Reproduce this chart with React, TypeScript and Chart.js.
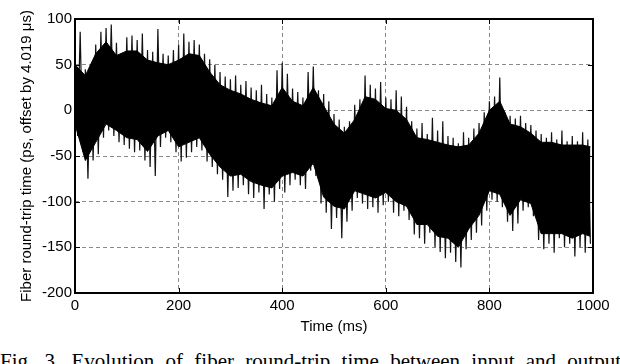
import React, { useEffect, useRef } from 'react';
import { Chart, registerables } from 'chart.js';

Chart.register(...registerables);

// Sample times (ms) of the high-side readings; low-side readings sit half a bin later.
const TIME_MS: number[] = Array.from({ length: 100 }, (_, i) => i * 10);
const LOW_SAMPLE_DELAY_MS = 5;

// Upper extremes of the noisy trace (ps), one per 10 ms bin
const PEAK_HIGH: number[] = [
  66, 86, 45, 50, 72, 86, 90, 94, 74, 60,
  80, 82, 77, 84, 66, 64, 89, 62, 60, 66,
  72, 84, 75, 77, 72, 62, 56, 50, 42, 37,
  34, 38, 28, 32, 25, 22, 28, 18, 14, 44,
  52, 40, 24, 20, 14, 42, 48, 22, 18, 10,
  -4, -10, -18, -12, 6, 12, 38, 28, 24, 31,
  14, 12, 22, 15, 4, -12, -20, -14, -26, -8,
  -22, -12, -28, -30, -36, -24, -30, -20, -14, -2,
  10, 15, 36, -2, -6, -9, -6, -14, -16, -22,
  -26, -30, -24, -32, -22, -34, -28, -34, -24, -32,
];

// Lower extremes of the noisy trace (ps)
const PEAK_LOW: number[] = [
  -28, -45, -75, -55, -48, -30, -22, -28, -35, -38,
  -42, -46, -44, -55, -62, -72, -40, -30, -35, -46,
  -56, -52, -46, -40, -44, -56, -62, -70, -76, -95,
  -88, -85, -82, -92, -96, -90, -108, -92, -100, -86,
  -90, -82, -76, -82, -86, -66, -72, -102, -112, -130,
  -118, -140, -122, -110, -96, -102, -108, -106, -112, -104,
  -100, -112, -116, -110, -120, -136, -140, -146, -134, -150,
  -155, -162, -156, -166, -172, -152, -142, -134, -126, -110,
  -98, -100, -106, -122, -132, -124, -110, -106, -116, -142,
  -152, -146, -156, -140, -150, -146, -160, -150, -156, -146,
];

// Dense (solid black) part of the trace, read every 20 ms
const CORE_TIME_MS: number[] = [
  0, 20, 40, 60, 80, 100, 120, 140, 160, 180,
  200, 220, 240, 260, 280, 300, 320, 340, 360, 380,
  400, 420, 440, 460, 480, 500, 520, 540, 560, 580,
  600, 620, 640, 660, 680, 700, 720, 740, 760, 780,
  800, 820, 840, 860, 880, 900, 920, 940, 960, 980, 995,
];
const CORE_HIGH: number[] = [
  50, 38, 62, 75, 60, 65, 65, 55, 52, 50,
  55, 62, 60, 42, 28, 22, 18, 12, 8, 5,
  25, 10, 5, 25, 5, -15, -25, -10, 15, 12,
  2, 0, -10, -30, -32, -35, -38, -40, -38, -25,
  0, 10, -15, -18, -25, -35, -35, -38, -38, -38, -40,
];
const CORE_LOW: number[] = [
  -15, -55, -35, -15, -22, -30, -32, -45, -28, -22,
  -40, -35, -30, -48, -62, -72, -70, -78, -82, -85,
  -72, -68, -72, -58, -95, -105, -108, -88, -92, -96,
  -90, -100, -105, -125, -125, -138, -140, -150, -130, -115,
  -88, -92, -115, -98, -102, -135, -135, -135, -140, -135, -138,
];

const X_TICKS: number[] = [0, 200, 400, 600, 800, 1000];
const Y_TICKS: number[] = [-200, -150, -100, -50, 0, 50, 100];

const X_TITLE = 'Time (ms)';
const Y_TITLE = 'Fiber round-trip time (ps, offset by 4.019 μs)';
const CAPTION = 'Fig. 3.  Evolution of fiber round-trip time between input and output';

const FONT = '"Liberation Sans", Arial, sans-serif';

const framePlugin = {
  id: 'frame',
  afterDraw(chart: any) {
    const { ctx, chartArea } = chart;
    const { left, right, top, bottom } = chartArea;
    const xs = chart.scales.x;
    const ys = chart.scales.y;
    ctx.save();
    ctx.strokeStyle = '#000';
    ctx.lineWidth = 1;
    const tl = 5;
    ctx.beginPath();
    X_TICKS.forEach((v) => {
      const px = Math.round(xs.getPixelForValue(v)) + 0.5;
      ctx.moveTo(px, bottom);
      ctx.lineTo(px, bottom - tl);
      ctx.moveTo(px, top);
      ctx.lineTo(px, top + tl);
    });
    Y_TICKS.forEach((v) => {
      const py = Math.round(ys.getPixelForValue(v)) + 0.5;
      ctx.moveTo(left, py);
      ctx.lineTo(left + tl, py);
      ctx.moveTo(right, py);
      ctx.lineTo(right - tl, py);
    });
    ctx.stroke();
    ctx.lineWidth = 2;
    ctx.strokeRect(left, top, right - left, bottom - top);
    ctx.restore();
  },
};

export default function App() {
  const canvasRef = useRef<HTMLCanvasElement | null>(null);

  useEffect(() => {
    if (!canvasRef.current) return;
    const points: { x: number; y: number }[] = [];
    TIME_MS.forEach((t, i) => {
      points.push({ x: t, y: PEAK_HIGH[i] });
      points.push({ x: t + LOW_SAMPLE_DELAY_MS, y: PEAK_LOW[i] });
    });
    const coreHigh = CORE_TIME_MS.map((t, i) => ({ x: t, y: CORE_HIGH[i] }));
    const coreLow = CORE_TIME_MS.map((t, i) => ({ x: t, y: CORE_LOW[i] }));

    const chart = new Chart(canvasRef.current, {
      type: 'line',
      data: {
        datasets: [
          {
            data: coreHigh,
            borderColor: '#000',
            borderWidth: 1,
            pointRadius: 0,
            tension: 0,
            fill: false,
          },
          {
            data: coreLow,
            borderColor: '#000',
            backgroundColor: '#000',
            borderWidth: 1,
            pointRadius: 0,
            tension: 0,
            fill: '-1',
          },
          {
            data: points,
            borderColor: '#111',
            borderWidth: 1.2,
            pointRadius: 0,
            tension: 0,
            fill: false,
          },
        ],
      },
      options: {
        animation: false,
        responsive: false,
        devicePixelRatio: 1,
        parsing: false as any,
        layout: { padding: { top: 19, right: 27, left: 0, bottom: 0 } },
        plugins: {
          legend: { display: false },
          tooltip: { enabled: false },
          filler: { propagate: false },
        },
        scales: {
          x: {
            type: 'linear',
            min: 0,
            max: 1000,
            afterBuildTicks: (s: any) => {
              s.ticks = X_TICKS.map((v) => ({ value: v }));
            },
            afterFit: (s: any) => {
              s.height = 43;
            },
            grid: {
              color: '#8a8a8a',
              lineWidth: 1,
              drawTicks: false,
            },
            border: { display: false, dash: [4, 3] },
            ticks: {
              padding: 4,
              color: '#000',
              font: { family: FONT, size: 15 },
              maxRotation: 0,
              callback: (v: any) => String(v),
            },
            title: {
              display: true,
              text: X_TITLE,
              color: '#000',
              font: { family: FONT, size: 15 },
              padding: { top: 0, bottom: 0 },
            },
          },
          y: {
            type: 'linear',
            min: -200,
            max: 100,
            afterBuildTicks: (s: any) => {
              s.ticks = Y_TICKS.map((v) => ({ value: v }));
            },
            afterFit: (s: any) => {
              s.width = 75;
            },
            grid: {
              color: '#8a8a8a',
              lineWidth: 1,
              drawTicks: false,
            },
            border: { display: false, dash: [4, 3] },
            ticks: {
              padding: 3,
              color: '#000',
              font: { family: FONT, size: 15 },
              callback: (v: any) => String(v),
            },
            title: {
              display: true,
              text: Y_TITLE,
              color: '#000',
              font: { family: FONT, size: 15 },
              padding: { top: 18, bottom: 0 },
            },
          },
        },
      },
      plugins: [framePlugin],
    });
    return () => chart.destroy();
  }, []);

  return (
    <div
      style={{
        position: 'fixed',
        left: 0,
        top: 0,
        width: 620,
        height: 364,
        background: '#fff',
        overflow: 'hidden',
      }}
    >
      <canvas ref={canvasRef} width={620} height={336} style={{ display: 'block' }} />
      <div
        style={{
          position: 'absolute',
          left: 0,
          top: 351,
          width: 621,
          fontFamily: '"Liberation Serif", "Times New Roman", serif',
          fontSize: 21,
          lineHeight: '21px',
          textAlign: 'justify',
          textAlignLast: 'justify' as any,
          color: '#000',
        }}
      >
        {CAPTION}
      </div>
    </div>
  );
}
